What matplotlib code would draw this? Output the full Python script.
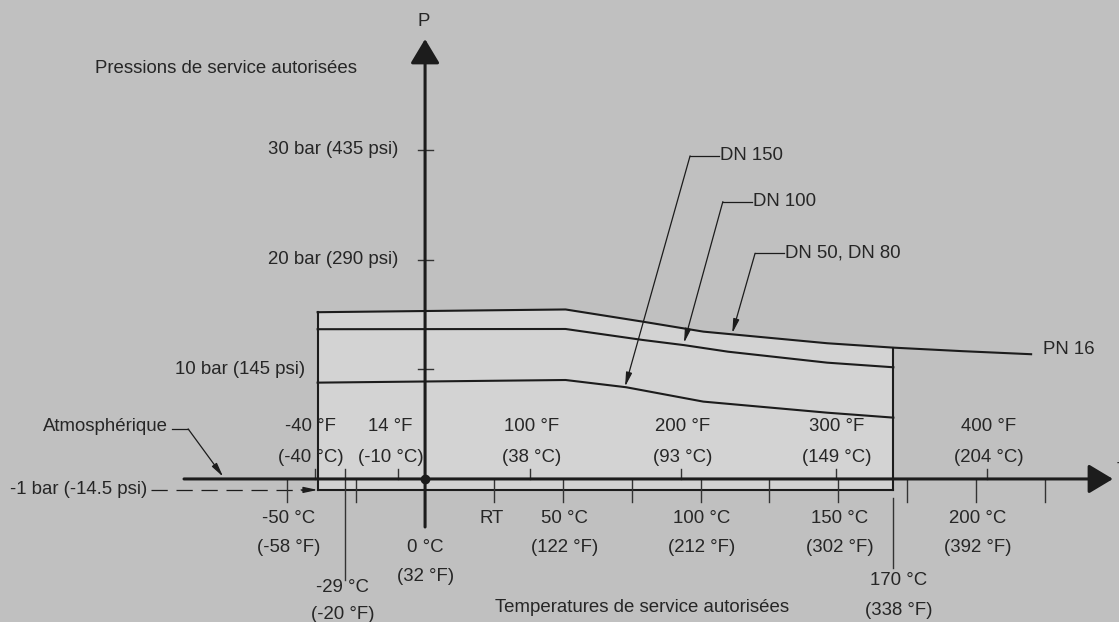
"""Diagramme pression / température de service (PN 16, DN 50 à DN 150)."""

import matplotlib
import matplotlib.pyplot as plt

matplotlib.use("Agg")

temp_dn50 = [-39, 51, 79, 101, 146, 170, 195, 220]
pres_dn50 = [15.2, 15.45, 14.34, 13.43, 12.37, 11.97, 11.65, 11.37]

temp_dn100 = [-39, 51, 79, 94, 110, 146, 170]
pres_dn100 = [13.65, 13.67, 12.67, 12.2, 11.6, 10.6, 10.18]

temp_dn150 = [-39, 51, 73, 101, 146, 170]
pres_dn150 = [8.78, 9.02, 8.36, 7.05, 6.04, 5.59]

temp_min = -39
temp_max = 170
pres_vide = -1

# graduations de pression
ticks_p = [10, 20, 30]
labels_p = ["10 bar (145 psi)", "20 bar (290 psi)", "30 bar (435 psi)"]

# graduations °F (au-dessus de l'axe)
ticks_f = [-40, -10, 38, 93, 149, 204]
labels_f = ["-40 °F", "14 °F", "100 °F", "200 °F", "300 °F", "400 °F"]
labels_f_c = ["(-40 °C)", "(-10 °C)", "(38 °C)", "(93 °C)", "(149 °C)", "(204 °C)"]

# graduations °C (sous l'axe)
ticks_c = [-50, -25, 25, 50, 75, 100, 125, 150, 175, 200, 225]
pos_labels_c = [-50, 50, 100, 150, 200]
labels_c = ["-50 °C", "50 °C", "100 °C", "150 °C", "200 °C"]
labels_c_f = ["(-58 °F)", "(122 °F)", "(212 °F)", "(302 °F)", "(392 °F)"]

FOND = "#c0c0c0"
ZONE = "#d3d3d3"
TRAIT = "#1c1c1c"
TEXTE = "#262626"
FS = 13.4

plt.rcParams["font.family"] = ["Liberation Sans", "DejaVu Sans"]

fig = plt.figure(figsize=(11.19, 6.22), dpi=100, facecolor=FOND)
ax = fig.add_axes([0, 0, 1, 1])
ax.set_facecolor(FOND)
ax.set_xlim(-154.3, 251.9)
ax.set_ylim(-13.04, 43.66)
ax.axis("off")

# zone autorisée
n = temp_dn50.index(temp_max) + 1
ax.fill_between(temp_dn50[:n], pres_vide, pres_dn50[:n], color=ZONE, lw=0, zorder=1)
ax.plot([temp_min, temp_min], [pres_vide, pres_dn50[0]], color=TRAIT, lw=1.5, zorder=3)
ax.plot([temp_max, temp_max], [pres_vide, pres_dn50[n - 1]], color=TRAIT, lw=1.5, zorder=3)
ax.plot([temp_min, temp_max], [pres_vide, pres_vide], color=TRAIT, lw=1.5, zorder=3)

# courbes
for t, p in [(temp_dn50, pres_dn50), (temp_dn100, pres_dn100), (temp_dn150, pres_dn150)]:
    ax.plot(t, p, color=TRAIT, lw=1.5, zorder=3)

# axes avec flèches
ax.annotate("", xy=(0, 40.1), xytext=(0, -4.38),
            arrowprops=dict(arrowstyle="-|>,head_length=1.5,head_width=0.9",
                            mutation_scale=10, lw=2.2, color=TRAIT,
                            shrinkA=0, shrinkB=0), zorder=5)
ax.annotate("", xy=(249.7, 0), xytext=(-87.5, 0),
            arrowprops=dict(arrowstyle="-|>,head_length=1.5,head_width=0.9",
                            mutation_scale=10, lw=2.2, color=TRAIT,
                            shrinkA=0, shrinkB=0), zorder=5)
ax.plot(0, 0, "o", ms=6, color=TRAIT, zorder=6)
ax.text(-0.4, 41.66, "P", fontsize=FS, color=TEXTE, ha="center", va="center")
ax.text(251.0, 0.8, "T", fontsize=FS, color=TEXTE, ha="left", va="center")

# graduations de pression
for p in ticks_p:
    ax.plot([-2.6, 2.9], [p, p], color="#333333", lw=1, zorder=4)
droite_p = [-43.6, -9.8, -9.8]
for p, lab, xr in zip(ticks_p, labels_p, droite_p):
    ax.text(xr, p, lab, fontsize=FS, color=TEXTE, ha="right", va="center")

# graduations °F au-dessus de l'axe
decal_f = [-1.5, -2.5, 0.5, 0.5, 0.5, 0.5]
for t, l1, l2, d in zip(ticks_f, labels_f, labels_f_c, decal_f):
    ax.plot([t, t], [0, 0.92], color="#333333", lw=1, zorder=4)
    ax.text(t + d, 4.74, l1, fontsize=FS, color=TEXTE, ha="center", va="center", zorder=6)
    ax.text(t + d, 2.0, l2, fontsize=FS, color=TEXTE, ha="center", va="center", zorder=6)

# graduations °C sous l'axe
for t in ticks_c:
    ax.plot([t, t], [0, -2.1], color="#333333", lw=1, zorder=4)
for t, l1, l2 in zip(pos_labels_c, labels_c, labels_c_f):
    ax.text(t + 0.5, -3.56, l1, fontsize=FS, color=TEXTE, ha="center", va="center")
    ax.text(t + 0.5, -6.29, l2, fontsize=FS, color=TEXTE, ha="center", va="center")
ax.text(24, -3.56, "RT", fontsize=FS, color=TEXTE, ha="center", va="center")
ax.text(0, -6.29, "0 °C", fontsize=FS, color=TEXTE, ha="center", va="center")
ax.text(0, -8.93, "(32 °F)", fontsize=FS, color=TEXTE, ha="center", va="center")

# limites -29 °C et 170 °C
ax.plot([-29, -29], [0.92, -9.2], color="#333333", lw=1, zorder=4)
ax.text(-30, -9.94, "-29 °C", fontsize=FS, color=TEXTE, ha="center", va="center")
ax.text(-30, -12.4, "(-20 °F)", fontsize=FS, color=TEXTE, ha="center", va="center")
ax.plot([170, 170], [-1.73, -8.1], color="#333333", lw=1, zorder=4)
ax.text(172, -9.3, "170 °C", fontsize=FS, color=TEXTE, ha="center", va="center")
ax.text(172, -12.03, "(338 °F)", fontsize=FS, color=TEXTE, ha="center", va="center")

# repères DN
fleche = dict(arrowstyle="-|>,head_length=0.7,head_width=0.15", mutation_scale=12,
              lw=0.9, color=TRAIT, shrinkA=0, shrinkB=0)
reperes = [
    ("DN 150", (96.2, 29.45), (72.6, 8.41)),
    ("DN 100", (108.1, 25.28), (94.0, 12.4)),
    ("DN 50, DN 80", (119.8, 20.57), (111.5, 13.28)),
]
for lab, coude, pointe in reperes:
    ax.plot([coude[0], coude[0] + 10.5], [coude[1], coude[1]], color=TRAIT, lw=0.9)
    ax.annotate("", xy=pointe, xytext=coude, arrowprops=fleche)
    ax.text(coude[0] + 10.8, coude[1], lab, fontsize=FS, color=TEXTE, ha="left", va="center")
ax.text(224.3, 11.76, "PN 16", fontsize=FS, color=TEXTE, ha="left", va="center")

# pression atmosphérique et vide
ax.text(-138.7, 4.77, "Atmosphérique", fontsize=FS, color=TEXTE, ha="left", va="center")
ax.plot([-91.8, -86.0], [4.56, 4.56], color=TRAIT, lw=0.9)
ax.annotate("", xy=(-73.3, 0.2), xytext=(-86.0, 4.56), arrowprops=fleche)

ax.text(-150.6, -1.0, "-1 bar (-14.5 psi)", fontsize=FS, color=TEXTE, ha="left", va="center")
ax.plot([-99.5, -43.0], [pres_vide, pres_vide], color=TRAIT, lw=0.9,
        linestyle=(0, (13, 7)))
ax.annotate("", xy=(temp_min, pres_vide), xytext=(-45.0, pres_vide), arrowprops=fleche)

# titres des axes
ax.text(-72.2, 37.4, "Pressions de service autorisées", fontsize=FS, color=TEXTE,
        ha="center", va="center")
ax.text(78.8, -11.76, "Temperatures de service autorisées", fontsize=FS, color=TEXTE,
        ha="center", va="center")

fig.savefig("out.png", dpi=100, facecolor=FOND)
plt.close(fig)
